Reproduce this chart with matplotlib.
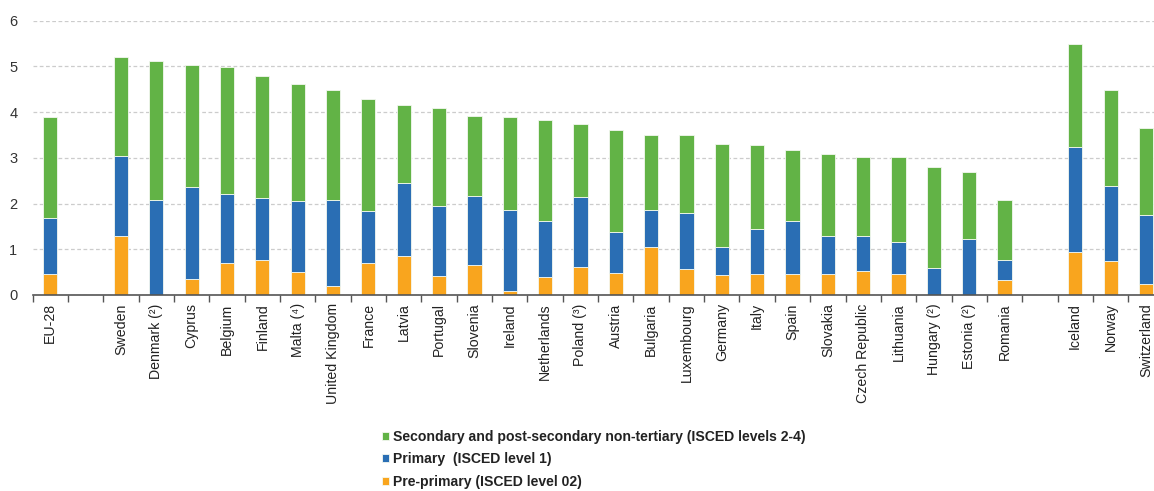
import numpy as np
import matplotlib
matplotlib.use("Agg")
import matplotlib.pyplot as plt
from matplotlib.ticker import FixedLocator

plt.rcParams['font.family'] = ['Liberation Sans', 'DejaVu Sans']

# ---- data (empty strings are gap slots) ----
categories = ["EU-28", "", "Sweden", "Denmark (²)", "Cyprus", "Belgium", "Finland",
              "Malta (⁴)", "United Kingdom", "France", "Latvia", "Portugal", "Slovenia",
              "Ireland", "Netherlands", "Poland (³)", "Austria", "Bulgaria", "Luxembourg",
              "Germany", "Italy", "Spain", "Slovakia", "Czech Republic", "Lithuania",
              "Hungary (²)", "Estonia (²)", "Romania", "", "Iceland", "Norway", "Switzerland"]

# cumulative tops
pre_primary = [0.47, 0, 1.29, 0.00, 0.35, 0.69, 0.77, 0.51, 0.20, 0.69, 0.85, 0.41, 0.65,
               0.09, 0.39, 0.61, 0.48, 1.04, 0.57, 0.43, 0.46, 0.47, 0.47, 0.53, 0.47,
               0.00, 0.00, 0.32, 0, 0.93, 0.74, 0.25]
primary_top = [1.69, 0, 3.05, 2.08, 2.36, 2.21, 2.13, 2.06, 2.08, 1.84, 2.45, 1.95, 2.16,
               1.87, 1.62, 2.14, 1.38, 1.87, 1.79, 1.06, 1.45, 1.61, 1.29, 1.29, 1.17,
               0.59, 1.22, 0.77, 0, 3.23, 2.39, 1.74]
total_top = [3.89, 0, 5.20, 5.11, 5.04, 4.99, 4.80, 4.62, 4.49, 4.28, 4.15, 4.10, 3.91,
             3.89, 3.83, 3.73, 3.60, 3.51, 3.49, 3.31, 3.29, 3.17, 3.09, 3.02, 3.02,
             2.81, 2.68, 2.07, 0, 5.48, 4.48, 3.65]

series_labels = ["Secondary and post-secondary non-tertiary (ISCED levels 2-4)",
                 "Primary  (ISCED level 1)",
                 "Pre-primary (ISCED level 02)"]
colors = {"sec": "#62B346", "prim": "#2A6EB4", "pre": "#F9A51E"}

pre = np.array(pre_primary)
prim = np.array(primary_top) - pre
prim[np.array(primary_top) == 0] = 0
sec = np.array(total_top) - np.array(primary_top)

W, H = 1154, 491
fig = plt.figure(figsize=(W / 100, H / 100), dpi=100)
ax_left = 32.7 / W
slot = 35.34
n = len(categories)
ax = fig.add_axes([ax_left, (H - 295) / H, n * slot / W, (295 - 20.7) / H])

x = np.arange(n)
bw = 0.40
ec = dict(edgecolor="#f4f8f0", linewidth=0.6)
b_pre = ax.bar(x, pre, bw, color=colors["pre"], zorder=3, **ec)
b_prim = ax.bar(x, prim, bw, bottom=pre, color=colors["prim"], zorder=3, **ec)
b_sec = ax.bar(x, sec, bw, bottom=np.array(primary_top), color=colors["sec"], zorder=3, **ec)

ax.set_xlim(-0.5, n - 0.5)
ax.set_ylim(0, 6)
ax.set_yticks(range(0, 7))
ax.yaxis.grid(True, linestyle=(0, (3, 2)), color="#cccccc", linewidth=0.9, zorder=0)
ax.set_axisbelow(True)
for s in ["top", "right", "left"]:
    ax.spines[s].set_visible(False)
ax.spines["bottom"].set_color("#555555")
ax.spines["bottom"].set_linewidth(1.2)
ax.spines["bottom"].set_zorder(4)

ax.set_xticks(x)
ax.set_xticklabels(categories, rotation=90, fontsize=10.2, color="#222222")
ax.tick_params(axis="x", which="major", length=0, pad=6)
ax.xaxis.set_minor_locator(FixedLocator(np.arange(n + 1) - 0.5))
ax.tick_params(axis="x", which="minor", length=5, width=1.0, color="#555555", direction="out")
ax.tick_params(axis="y", length=0, pad=11, labelsize=10.5, labelcolor="#333333")

leg = fig.legend([b_sec, b_prim, b_pre], series_labels,
                 loc="upper left", bbox_to_anchor=(382 / W, 1 - 430 / H),
                 frameon=False, borderpad=0, borderaxespad=0,
                 handlelength=0.5, handleheight=0.5, handletextpad=0.3,
                 labelspacing=0.6, prop={"size": 10.1, "weight": "bold"})
for t in leg.get_texts():
    t.set_color("#222222")

fig.savefig("out.png", dpi=100)
